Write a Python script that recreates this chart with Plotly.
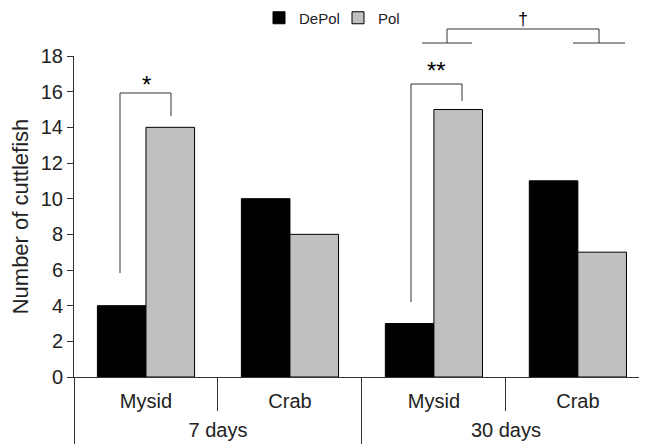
import plotly.graph_objects as go

# ---- data ----
periods = ["7 days", "7 days", "30 days", "30 days"]
prey = ["Mysid", "Crab", "Mysid", "Crab"]
depol = [4, 10, 3, 11]
pol = [14, 8, 15, 7]
y_ticks = [0, 2, 4, 6, 8, 10, 12, 14, 16, 18]
y_title = "Number of cuttlefish"

# category positions derived from the data
x_idx = list(range(len(prey)))
group_names = list(dict.fromkeys(periods))
group_centers = [sum(i for i, p in enumerate(periods) if p == g) /
                 periods.count(g) for g in group_names]
inner_bounds = [i - 0.5 for i in range(1, len(prey)) if periods[i] == periods[i - 1]]
group_bounds = [-0.5] + [i - 0.5 for i in range(1, len(prey)) if periods[i] != periods[i - 1]]

# ---- layout geometry (page pixels; the page body adds an 8px offset) ----
OFF = 8
W, H = 647 - OFF, 444 - OFF
PLOT_L, PLOT_R, PLOT_T, PLOT_B = 74, 647, 56, 377   # page coords
L = PLOT_L - OFF
T = PLOT_T - OFF
R = W - (PLOT_R - OFF)
B = H - (PLOT_B - OFF)
PW, PH = PLOT_R - PLOT_L, PLOT_B - PLOT_T

def px(x):
    return (x - PLOT_L) / PW

def py(y):
    return (PLOT_B - y) / PH

FONT = "Liberation Sans, Arial, sans-serif"
AX = "#333333"
XR = [-0.5, 3.48]

fig = go.Figure()
fig.add_bar(x=x_idx, y=depol, name="DePol",
            marker=dict(color="black", line=dict(color="black", width=1)))
fig.add_bar(x=x_idx, y=pol, name="Pol",
            marker=dict(color="#c0c0c0", line=dict(color="black", width=1)))
# invisible helper trace so the period axis (x2) is drawn
fig.add_scatter(x=group_centers, y=[0] * len(group_centers), xaxis="x2",
                mode="markers", marker=dict(opacity=0), showlegend=False,
                hoverinfo="skip")

shapes = []
def seg(x0, y0, x1, y1):
    shapes.append(dict(type="line", xref="paper", yref="paper",
                       x0=px(x0), y0=py(y0), x1=px(x1), y1=py(y1),
                       line=dict(color=AX, width=1)))

# * bracket (7 days, Mysid)
seg(120, 273, 120, 93); seg(120, 93, 171, 93); seg(171, 93, 171, 116)
# ** bracket (30 days, Mysid)
seg(411, 302, 411, 84); seg(411, 84, 462, 84); seg(462, 84, 462, 101)
# dagger bracket
seg(422, 43, 472, 43); seg(573, 43, 625, 43)
seg(447, 43, 447, 29); seg(447, 29, 599, 29); seg(599, 29, 599, 43)

annotations = [
    dict(text="*", x=px(146), y=py(84), font=dict(size=24), yanchor="middle"),
    dict(text="**", x=px(436), y=py(70), font=dict(size=24), yanchor="middle"),
    dict(text="†", x=px(523), y=py(8), font=dict(size=18), yanchor="top"),
]
for a in annotations:
    a.update(xref="paper", yref="paper", showarrow=False,
             xanchor="center", borderpad=0)
    a["font"].update(family=FONT, color="black")

fig.update_layout(
    width=W, height=H,
    margin=dict(l=L, r=R, t=T, b=B, autoexpand=False),
    plot_bgcolor="white", paper_bgcolor="white",
    barmode="group", bargap=0.325, bargroupgap=0,
    font=dict(family=FONT, size=20, color="#222222"),
    showlegend=True,
    legend=dict(orientation="h", x=px(259), y=py(18), xanchor="left",
                yanchor="middle", font=dict(size=15), itemwidth=30,
                entrywidth=34, entrywidthmode="pixels",
                bgcolor="rgba(0,0,0,0)", traceorder="normal"),
    shapes=shapes, annotations=annotations,
    xaxis=dict(range=XR, tickmode="array", tickvals=x_idx, ticktext=prey,
               ticks="", showline=True, linecolor=AX, linewidth=1,
               showgrid=False, zeroline=False, tickfont=dict(size=20),
               ticklabelstandoff=6,
               minor=dict(tickmode="array", tickvals=inner_bounds,
                          ticks="outside", ticklen=33, tickcolor=AX,
                          showgrid=False),
               automargin=False),
    xaxis2=dict(overlaying="x", anchor="y", side="bottom", range=XR,
                tickmode="array", tickvals=group_centers, ticktext=group_names,
                ticks="", showline=False, showgrid=False, zeroline=False,
                tickfont=dict(size=20), ticklabelstandoff=39,
                minor=dict(tickmode="array", tickvals=group_bounds,
                           ticks="outside", ticklen=67, tickcolor=AX,
                           showgrid=False),
                automargin=False),
    yaxis=dict(range=[0, 18], tickvals=y_ticks, ticks="outside", ticklen=6,
               tickcolor=AX, showline=True, linecolor=AX, linewidth=1,
               showgrid=False, zeroline=False, tickfont=dict(size=20),
               title=dict(text=y_title, font=dict(size=22), standoff=6),
               automargin=False),
)

fig.write_html("out.html")
